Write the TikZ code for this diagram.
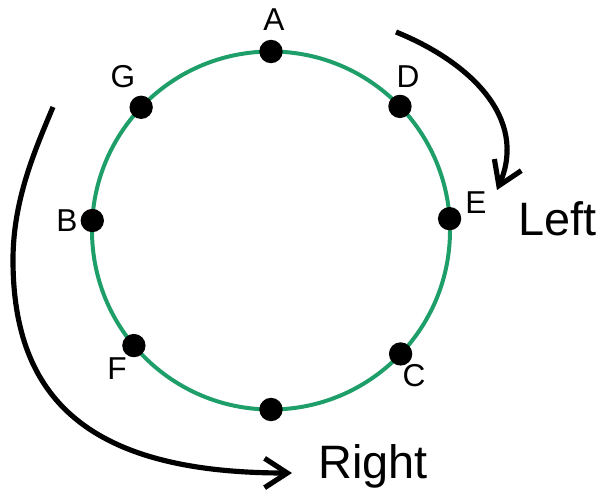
\documentclass[tikz,border=0pt]{standalone}
\usepackage{fontspec}
\setmainfont{Liberation Sans}
\usepackage{tikz}
\usetikzlibrary{arrows.meta,positioning,calc}
\usepackage{xcolor}
\definecolor{ringgreen}{RGB}{30,158,104}

\begin{document}
\begin{tikzpicture}[x=0.03cm, y=0.03cm,
        dot/.style={circle, fill=black, inner sep=0pt, minimum size=0.7cm},
        lbl/.style={inner sep=0pt, font=\fontsize{27}{30}\selectfont},
        dirlbl/.style={inner sep=0pt, anchor=base west, font=\fontsize{40}{44}\selectfont},
        turn/.style={line width=4.4pt, -{Straight Barb[length=6.8mm, width=8.8mm]}}]
        \useasboundingbox (0,0) rectangle (605,-492);
        \coordinate (O) at (271,-230.5);

        % Ring
        \draw[ringgreen, line width=3.4pt] (O) circle[radius=179];

        % Points on the ring
        \node[dot] (A) at ($(O)+(90:179)$) {};
        \node[dot] (G) at ($(O)+(136.5:179)$) {};
        \node[dot] (D) at ($(O)+(43.9:179)$) {};
        \node[dot] (B) at ($(O)+(176.8:179)$) {};
        \node[dot] (E) at ($(O)+(3.8:179)$) {};
        \node[dot] (F) at ($(O)+(220:179)$) {};
        \node[dot] (C) at ($(O)+(316.4:179)$) {};
        \node[dot] (S) at ($(O)+(270:179)$) {};

        % Letters
        \node[lbl] (labA) at (274,-19.5) {A};
        \node[lbl] (labG) at (123,-77) {G};
        \node[lbl] (labB) at (67,-220.5) {B};
        \node[lbl] (labD) at (408,-77) {D};
        \node[lbl] (labE) at (476,-203) {E};
        \node[lbl] (labF) at (117,-369) {F};
        \node[lbl] (labC) at (414,-376) {C};

        % Left turn
        \coordinate (ls) at (396,-32);
        \coordinate (le) at (497,-190);
        \draw[turn] (ls) .. controls (470,-62) and (528,-118) .. (le);
        \node[dirlbl] (left) at (518,-235) {Left};

        % Right turn
        \coordinate (rs) at (53,-107);
        \coordinate (rm) at (13,-260);
        \coordinate (re) at (292,-473);
        \draw[turn] (rs) .. controls (35,-150) and (13,-200) .. (rm)
                         .. controls (13,-400) and (90,-473) .. (re);
        \node[dirlbl] (right) at (318,-478) {Right};
\end{tikzpicture}
\end{document}
